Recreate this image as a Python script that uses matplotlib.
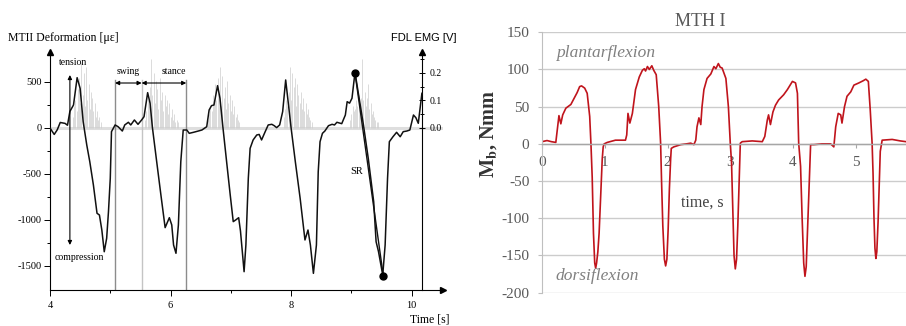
import matplotlib
matplotlib.use("Agg")
import matplotlib.pyplot as plt

plt.rcParams["font.family"] = ["Liberation Serif", "DejaVu Serif"]
plt.rcParams["mathtext.fontset"] = "stix"
plt.rcParams["axes.unicode_minus"] = False

# ---- left panel: MTII deformation + FDL EMG ----
def_time = [4.00, 4.07, 4.12, 4.17, 4.25, 4.29, 4.33, 4.39, 4.45, 4.50,
            4.55, 4.61, 4.66, 4.72, 4.78, 4.82, 4.86, 4.90, 4.94, 4.97,
            5.00, 5.02, 5.08, 5.13, 5.20, 5.24, 5.30, 5.34, 5.40, 5.46,
            5.52, 5.56, 5.62, 5.66, 5.70, 5.77, 5.84, 5.91, 5.98, 6.02,
            6.05, 6.09, 6.13, 6.17, 6.21, 6.27, 6.31, 6.38, 6.46, 6.52,
            6.60, 6.64, 6.68, 6.72, 6.78, 6.82, 6.87, 6.93, 6.99, 7.04,
            7.08, 7.13, 7.16, 7.19, 7.22, 7.25, 7.29, 7.32, 7.37, 7.43,
            7.47, 7.51, 7.57, 7.62, 7.68, 7.72, 7.76, 7.81, 7.86, 7.91,
            7.95, 8.00, 8.07, 8.15, 8.23, 8.28, 8.32, 8.37, 8.42, 8.45,
            8.48, 8.52, 8.56, 8.62, 8.68, 8.72, 8.76, 8.84, 8.90, 8.93,
            8.97, 9.01, 9.06, 9.12, 9.20, 9.28, 9.37, 9.41, 9.45, 9.52,
            9.56, 9.60, 9.63, 9.69, 9.75, 9.81, 9.86, 9.92, 9.97, 10.03,
            10.07, 10.11, 10.13, 10.17]
def_strain = [0, -70, -20, 60, 50, 30, 180, 250, 547, 430,
              70, -185, -366, -620, -927, -946, -1109, -1345, -1199, -910,
              -547, -40, 33, 14, -33, 33, 62, 33, 87, 40,
              87, 123, 384, 270, 0, -366, -728, -1083, -975, -1054,
              -1272, -1362, -1054, -366, -22, -22, -58, -47, -33, -22,
              14, 196, 243, 250, 460, 323, 0, -366, -728, -1018,
              -1000, -975, -1120, -1340, -1562, -1270, -547, -221, -130, -76,
              -70, -130, -40, 33, 40, 25, 4, 33, 178, 522,
              290, 0, -366, -765, -1217, -1109, -1272, -1580, -1272, -475,
              -149, -58, -33, 25, 40, 33, 62, 47, 141, 286,
              270, 323, 605, 359, 33, -330, -801, -1236, -1344, -1598,
              -1272, -547, -149, -95, -47, -95, -40, -33, -22, 141,
              112, 51, 160, 377]

# strain-rate segment end points
sr_time = [9.06, 9.53]
sr_strain = [598, -1609]

# gait phase boundaries (swing / stance)
phase_time = [5.08, 5.52, 6.26]
phase_color = ["#8c8c8c", "#c4c4c4", "#8c8c8c"]

# EMG bursts: start time and spike amplitudes [V], sampled every emg_dt
emg_dt = 0.02
emg_start = [4.38, 5.58, 6.62, 7.88, 8.98]
emg_burst1 = [0.04, 0.08, 0.10, 0.06, 0.14, 0.18, 0.09, 0.24, 0.12, 0.20, 0.08, 0.22,
              0.10, 0.16, 0.07, 0.13, 0.11, 0.06, 0.09, 0.04, 0.06, 0.03, 0.04, 0.02]
emg_burst2 = [0.03, 0.06, 0.10, 0.08, 0.15, 0.25, 0.12, 0.20, 0.09, 0.17, 0.14, 0.07,
              0.18, 0.10, 0.13, 0.06, 0.12, 0.08, 0.10, 0.05, 0.09, 0.04, 0.07, 0.03,
              0.05, 0.02, 0.03, 0.02]
emg_burst3 = [0.03, 0.05, 0.08, 0.06, 0.12, 0.09, 0.16, 0.10, 0.18, 0.12, 0.22, 0.08,
              0.19, 0.11, 0.15, 0.07, 0.17, 0.09, 0.12, 0.06, 0.10, 0.05, 0.08, 0.04,
              0.05, 0.03, 0.02]
emg_burst4 = [0.04, 0.07, 0.10, 0.08, 0.13, 0.22, 0.10, 0.20, 0.15, 0.18, 0.08, 0.16,
              0.12, 0.09, 0.13, 0.07, 0.11, 0.06, 0.09, 0.05, 0.07, 0.04, 0.03, 0.02]
emg_burst5 = [0.03, 0.05, 0.08, 0.06, 0.07, 0.10, 0.08, 0.12, 0.09, 0.11, 0.25, 0.10,
              0.13, 0.08, 0.11, 0.16, 0.07, 0.09, 0.05, 0.06, 0.04, 0.03, 0.02, 0.02]
emg_bursts = [emg_burst1, emg_burst2, emg_burst3, emg_burst4, emg_burst5]

# ---- right panel: MTH I bending moment ----
mb_time = [0.00, 0.08, 0.15, 0.22, 0.25, 0.27, 0.30, 0.33, 0.38, 0.46, 0.51, 0.56, 0.60, 0.63, 0.68,
           0.72, 0.76, 0.78, 0.80, 0.82, 0.84, 0.855, 0.87, 0.89, 0.91, 0.93, 0.945, 0.96, 0.975, 0.99,
           1.04, 1.17, 1.25, 1.33, 1.35, 1.37, 1.40, 1.44, 1.49, 1.55, 1.60, 1.63, 1.65, 1.68, 1.71,
           1.75, 1.78, 1.82, 1.86, 1.89, 1.905, 1.925, 1.95, 1.97, 1.99, 2.01, 2.03, 2.05, 2.06,
           2.10, 2.21, 2.30, 2.37, 2.42, 2.45, 2.47, 2.50, 2.53, 2.55, 2.58, 2.63, 2.69, 2.74, 2.77,
           2.81, 2.84, 2.87, 2.93, 2.97, 3.00, 3.02, 3.04, 3.06, 3.08, 3.10, 3.12, 3.14, 3.16,
           3.19, 3.35, 3.51, 3.55, 3.59, 3.61, 3.64, 3.68, 3.72, 3.77, 3.85, 3.91,
           3.99, 4.04, 4.07, 4.09, 4.12, 4.145, 4.17, 4.19, 4.21, 4.23, 4.255, 4.28,
           4.33, 4.46, 4.60, 4.65, 4.68, 4.72, 4.76, 4.78, 4.82, 4.86, 4.92, 4.97, 5.05, 5.12, 5.16,
           5.20, 5.23, 5.26, 5.275, 5.29, 5.305, 5.32, 5.335, 5.355, 5.375, 5.39, 5.42, 5.58, 5.71, 5.80]
mb_moment = [3, 4.5, 3, 2, 23, 38, 27, 39, 48, 53, 61, 69, 77, 78, 75,
             68, 37, 0, -45, -120, -160, -167, -160, -145, -120, -80, -50, -20, -4, 0,
             2, 5, 5, 5, 12, 41, 28, 41, 73, 90, 99, 101, 98, 104, 100,
             105, 99, 93, 50, 1, -50, -110, -155, -164, -155, -115, -60, -20, -6,
             -4, -1, 0, 1, -1, 5, 23, 35, 26, 50, 73, 88, 94, 104, 101,
             108, 103, 102, 88, 50, 1, -25, -90, -150, -168, -155, -110, -55, 1,
             3, 4, 3, 10, 32, 39, 26, 43, 52, 59, 66, 73,
             84, 82, 68, 1, -30, -100, -160, -178, -165, -120, -60, -1,
             -1, 0, 0, -4, 23, 41, 39, 28, 50, 64, 70, 79, 82, 85, 87,
             84, 46, 1, -40, -100, -140, -154, -145, -105, -50, -10, 5, 6, 4, 3]

W, H = 906, 326
fig = plt.figure(figsize=(W / 100, H / 100), dpi=100)

# ---------------- left panel ----------------
ax = fig.add_axes([50 / W, 1 - 290 / H, 393 / W, 238 / H])
ax2 = ax.twinx()
ax.set_zorder(2)
ax2.set_zorder(1)
ax.patch.set_visible(False)

ax.set_xlim(4, 10.52)
ax.set_ylim(-1761, 826)
ax2.set_ylim(-0.589, 0.276)

# EMG
ax2.axhline(0, color="#dedede", lw=2.2, zorder=1)
for start, amps in zip(emg_start, emg_bursts):
    ts = [start + i * emg_dt for i in range(len(amps))]
    ax2.vlines(ts, 0, amps, color="#cdcdcd", lw=0.5, zorder=2)

for t, c in zip(phase_time, phase_color):
    ax.plot([t, t], [-1761, 520], color=c, lw=1.0, zorder=1)

ax.plot(def_time, def_strain, color="#111111", lw=1.1, zorder=3)
ax.plot(sr_time, sr_strain, color="#111111", lw=1.0, zorder=3)
ax.plot(sr_time, sr_strain, "o", color="k", ms=5, zorder=4)

for s in ["top", "right"]:
    ax.spines[s].set_visible(False)
for s in ["left", "bottom"]:
    ax.spines[s].set_linewidth(0.8)
ax.plot(1, 0, ">k", transform=ax.transAxes, clip_on=False, ms=4)
ax.plot(0, 1, "^k", transform=ax.transAxes, clip_on=False, ms=4)

ax.set_xticks([4, 6, 8, 10])
ax.set_xticks([5, 7, 9], minor=True)
ax.set_yticks([-1500, -1000, -500, 0, 500])
ax.set_yticks([-1250, -750, -250, 250], minor=True)
ax.tick_params(which="major", length=4, width=0.7, labelsize=7.5, pad=2)
ax.tick_params(which="minor", length=2, width=0.7)
ax.tick_params(axis="x", pad=4)

for s in ["left", "top", "bottom"]:
    ax2.spines[s].set_visible(False)
xr = (422 - 50) / 393
ax2.spines["right"].set_position(("axes", xr))
ax2.spines["right"].set_linewidth(0.8)
ax2.plot(xr, 1, "^k", transform=ax2.transAxes, clip_on=False, ms=4)
ax2.set_yticks([0, 0.1, 0.2])
ax2.set_yticklabels(["0.0", "0.1", "0.2"])
ax2.set_yticks([0.05, 0.15, 0.25], minor=True)
ax2.tick_params(which="major", direction="inout", length=5, width=0.7, labelsize=7, pad=3)
ax2.tick_params(which="minor", direction="inout", length=3, width=0.7)

# annotations
ax.annotate("", xy=(4.33, 576), xytext=(4.33, -1272),
            arrowprops=dict(arrowstyle="<|-|>", color="k", lw=0.8, mutation_scale=6,
                            shrinkA=0, shrinkB=0))
ax.text(4.38, 717, "tension", fontsize=7, ha="center", va="center")
ax.text(4.48, -1413, "compression", fontsize=7, ha="center", va="center")
for a, b in [(phase_time[0], phase_time[1]), (phase_time[1], phase_time[2])]:
    ax.annotate("", xy=(a, 489), xytext=(b, 489),
                arrowprops=dict(arrowstyle="<|-|>", color="k", lw=0.8, mutation_scale=6,
                                shrinkA=0, shrinkB=0))
ax.text(5.30, 609, "swing", fontsize=7, ha="center", va="center")
ax.text(6.05, 609, "stance", fontsize=7, ha="center", va="center")
ax.text(9.08, -478, "SR", fontsize=7.5, ha="center", va="center")

fig.text(8 / W, 1 - 38 / H, "MTII Deformation [\u03bc\u03b5]", fontsize=8.5, va="center")
fig.text(391 / W, 1 - 38 / H, "FDL EMG [V]", fontsize=8, va="center",
         family=["Liberation Sans", "DejaVu Sans"])
fig.text(430 / W, 1 - 319 / H, "Time [s]", fontsize=8.5, ha="center", va="center")

# ---------------- right panel ----------------
axr = fig.add_axes([542 / W, 1 - 292.7 / H, 364 / W, 260.4 / H])
axr.set_xlim(0, 5.80)
axr.set_ylim(-200, 150)
axr.set_yticks(range(-200, 151, 50))
axr.set_xticks(range(0, 6))
axr.yaxis.grid(True, color="#cccccc", lw=1.0)
axr.set_axisbelow(True)

axr.plot(mb_time, mb_moment, color="#c0141c", lw=1.2)

for s in ["top", "right"]:
    axr.spines[s].set_visible(False)
axr.spines["left"].set_color("#bfbfbf")
axr.spines["bottom"].set_position(("data", 0))
axr.spines["bottom"].set_color("#a6a6a6")
axr.spines["bottom"].set_linewidth(1.0)
axr.tick_params(axis="y", length=3, color="#bfbfbf", labelcolor="#595959",
                labelsize=11, pad=6)
axr.tick_params(axis="x", length=3, color="#a6a6a6", labelcolor="#595959",
                labelsize=11, pad=6)

axr.text(0.434, 1.04, "MTH I", transform=axr.transAxes, fontsize=13,
         color="#595959", ha="center", va="center")
axr.text(0.22, 122, "plantarflexion", fontsize=12.5, style="italic",
         color="#808080", ha="left", va="center")
axr.text(0.22, -177, "dorsiflexion", fontsize=12.5, style="italic",
         color="#808080", ha="left", va="center")
axr.text(2.21, -79, "time, s", fontsize=11.5, color="#404040", ha="left", va="center")
fig.text(489 / W, 1 - 134 / H, r"$\mathbf{M_b}$, Nmm", fontsize=14.5, fontweight="bold",
         color="#333333", rotation=90, ha="center", va="center")

fig.savefig("out.png", dpi=100)
